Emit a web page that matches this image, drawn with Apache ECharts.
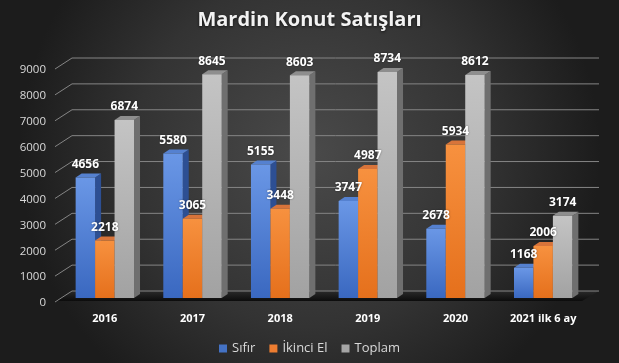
<!DOCTYPE html>
<html><head><meta charset="utf-8">
<script src="https://cdn.jsdelivr.net/npm/echarts@6/dist/echarts.min.js"></script>
<style>html,body{margin:0;padding:0;background:#2a2a2a}#c{width:619px;height:363px}</style>
</head><body><div id="c"></div>
<script>
const categories = ['2016','2017','2018','2019','2020','2021 ilk 6 ay'];
const sifir = [4656, 5580, 5155, 3747, 2678, 1168];
const ikinciEl = [2218, 3065, 3448, 4987, 5934, 2006];
const toplam = [6874, 8645, 8603, 8734, 8612, 3174];
const yTicks = [0,1000,2000,3000,4000,5000,6000,7000,8000,9000];

const DX = 6, DY = -4, BAR_FRAC = 0.222;
const palette = [
  {front:['#6a97e6','#3a68c0'], side:'#2d4f93', top:'#5581d0', legend:'#4472c4'},
  {front:['#f7913f','#e5701c'], side:'#b0551a', top:'#d8743a', legend:'#ed7d31'},
  {front:['#c4c4c4','#a2a2a2'], side:'#6f6f6f', top:'#8e8e8e', legend:'#a5a5a5'}
];

function barX(api, cat, idx){
  const base = api.coord([cat, 0]);
  const bw = api.size([1,0])[0]*BAR_FRAC;
  return {x0: base[0] - 1.5*bw + idx*bw, bw: bw, by: base[1]};
}

function barRenderer(idx){
  return function(params, api){
    const cat = api.value(0), val = api.value(1);
    const g = barX(api, cat, idx);
    const x0 = g.x0, bw = g.bw;
    const ty = api.coord([cat, val])[1];
    const p = palette[idx];
    return {type:'group', children:[
      {type:'polygon', shape:{points:[[x0+bw,ty],[x0+bw+DX,ty+DY],[x0+bw+DX,g.by+DY],[x0+bw,g.by]]}, style:{fill:p.side}},
      {type:'polygon', shape:{points:[[x0,ty],[x0+DX,ty+DY],[x0+bw+DX,ty+DY],[x0+bw,ty]]}, style:{fill:p.top}},
      {type:'rect', shape:{x:x0,y:ty,width:bw,height:g.by-ty}, style:{fill:{type:'linear',x:0,y:0,x2:0,y2:1,colorStops:[{offset:0,color:p.front[0]},{offset:1,color:p.front[1]}]}}}
    ]};
  };
}

const labelData = [];
[sifir, ikinciEl, toplam].forEach((arr, s) => arr.forEach((v, i) => labelData.push([i, v, s])));

const chart = echarts.init(document.getElementById('c'), null, {renderer:'canvas'});
chart.setOption({
  animation:false,
  backgroundColor:{type:'radial', x:0.5, y:0.42, r:0.8, colorStops:[{offset:0,color:'#4a4a4a'},{offset:0.6,color:'#333333'},{offset:1,color:'#1c1c1c'}]},
  title:{text:'Mardin Konut Satışları', left:'center', top:5,
    textStyle:{color:'#f2f2f2', fontFamily:'Open Sans', fontWeight:'bold', fontSize:20, textShadowColor:'rgba(0,0,0,0.7)', textShadowBlur:3, textShadowOffsetY:1}},
  legend:{bottom:3, left:'center', itemWidth:8, itemHeight:8, itemGap:14, icon:'rect',
    textStyle:{color:'#d9d9d9', fontFamily:'Open Sans', fontSize:13},
    data:['Sıfır','İkinci El','Toplam']},
  grid:{left:61, right:32, top:65, bottom:65},
  xAxis:{type:'category', data:categories, axisLine:{show:false}, axisTick:{show:false},
    axisLabel:{color:'#ffffff', fontFamily:'Open Sans', fontWeight:'bold', fontSize:11, margin:15}},
  yAxis:{type:'value', min:0, max:9000, interval:1000, splitLine:{show:false}, axisLine:{show:false},
    axisLabel:{color:'#d9d9d9', fontFamily:'Open Sans', fontSize:11.5, margin:15, verticalAlign:'top', lineHeight:10, formatter:function(v){return String(v);}}},
  series:[
    {type:'custom', silent:true, z:1, data:[0],
     renderItem:function(params, api){
       const cs = params.coordSys;
       const y0 = api.coord([0,0])[1];
       return {type:'polygon', shape:{points:[[cs.x-6,y0+3],[cs.x+11,y0-7],[cs.x+cs.width+12,y0-7],[cs.x+cs.width-5,y0+3]]},
         style:{fill:{type:'linear',x:0,y:0,x2:0,y2:1,colorStops:[{offset:0,color:'#2a2a2a'},{offset:1,color:'#0c0c0c'}]}}};
     }},
    {type:'custom', silent:true, z:2, data:yTicks.map(v=>[0,v]),
     renderItem:function(params, api){
       const cs = params.coordSys;
       const y = api.coord([0, api.value(1)])[1];
       return {type:'polyline', shape:{points:[[cs.x-6,y+4],[cs.x+11,y-7],[cs.x+cs.width+12,y-7]]},
         style:{stroke:'#858585', lineWidth:1, fill:null}};
     }},
    {name:'Sıfır', type:'custom', z:3, itemStyle:{color:palette[0].legend}, data:sifir.map((v,i)=>[i,v]), renderItem:barRenderer(0)},
    {name:'İkinci El', type:'custom', z:4, itemStyle:{color:palette[1].legend}, data:ikinciEl.map((v,i)=>[i,v]), renderItem:barRenderer(1)},
    {name:'Toplam', type:'custom', z:5, itemStyle:{color:palette[2].legend}, data:toplam.map((v,i)=>[i,v]), renderItem:barRenderer(2)},
    {type:'custom', silent:true, z:10, data:labelData,
     renderItem:function(params, api){
       const cat = api.value(0), val = api.value(1), s = api.value(2);
       const g = barX(api, cat, s);
       const ty = api.coord([cat, val])[1];
       return {type:'text', x:g.x0+g.bw/2, y:ty+DY-3,
         style:{text:String(val), fill:'#ffffff', font:'bold 12px "Open Sans"', align:'center', verticalAlign:'bottom', textShadowColor:'rgba(0,0,0,0.5)', textShadowBlur:2}};
     }}
  ]
});
</script></body></html>
